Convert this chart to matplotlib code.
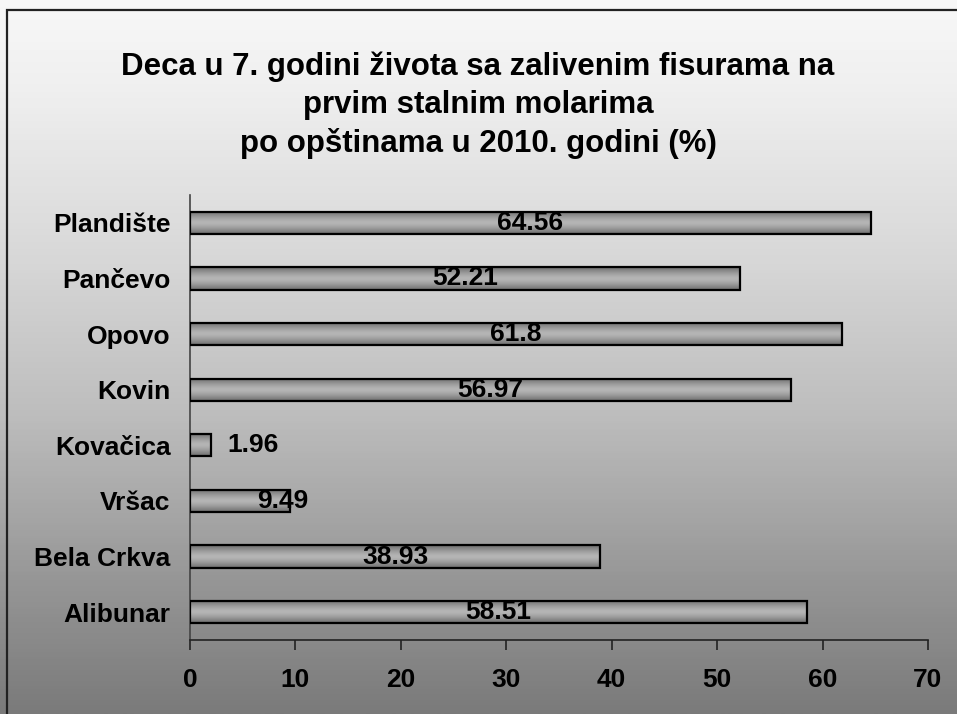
import numpy as np
import matplotlib.pyplot as plt
from matplotlib.patches import Rectangle

# data (bottom to top as drawn)
municipalities = ['Alibunar', 'Bela Crkva', 'Vršac', 'Kovačica', 'Kovin', 'Opovo', 'Pančevo', 'Plandište']
values = [58.51, 38.93, 9.49, 1.96, 56.97, 61.8, 52.21, 64.56]
xticks = [0, 10, 20, 30, 40, 50, 60, 70]
title = 'Deca u 7. godini života sa zalivenim fisurama na\nprvim stalnim molarima\npo opštinama u 2010. godini (%)'

plt.rcParams['font.family'] = ['Liberation Sans', 'DejaVu Sans']
plt.rcParams['font.weight'] = 'bold'

W, H = 957, 714
fig = plt.figure(figsize=(W / 100, H / 100), dpi=100)

# background gradient, white-ish at top to grey at bottom
bg = fig.add_axes([0, 0, 1, 1], zorder=-10)
grad = np.linspace(0, 1, 256).reshape(-1, 1)
bg.imshow(grad, aspect='auto', cmap='Greys', vmin=-0.12, vmax=1.75,
          extent=[0, 1, 0, 1], origin='upper')
bg.set_xlim(0, 1)
bg.set_ylim(0, 1)
bg.axis('off')
# outer frame (right/bottom run off the image)
bg.add_patch(Rectangle((7 / W, -0.05), 1.1, 1 - 10 / H + 0.05, fill=False,
                       edgecolor='#222222', lw=1.6, transform=bg.transAxes))

fig.text(478 / W, 1 - 51 / H, title, ha='center', va='top', fontsize=22.5,
         fontweight='bold', linespacing=1.36)

left, right = 190 / W, 928 / W
top, bottom = 1 - 195 / H, 1 - 640 / H
ax = fig.add_axes([left, bottom, right - left, top - bottom])
ax.set_facecolor('none')

y = np.arange(len(municipalities))
bars = ax.barh(y, values, height=0.4, color='none', edgecolor='black', lw=1.6, zorder=3)

# vertical shading inside each bar: darker edges, lighter middle
shade = np.abs(np.linspace(-1, 1, 64)).reshape(-1, 1)
for b in bars:
    x0, y0 = b.get_x(), b.get_y()
    im = ax.imshow(shade ** 1.5, aspect='auto', cmap='Greys', vmin=-1.6, vmax=2.4,
                   extent=[x0, x0 + b.get_width(), y0, y0 + b.get_height()],
                   zorder=2, interpolation='bilinear')
    im.set_clip_path(b)

fs = 19
for yi, v in zip(y, values):
    if v < 5:
        ax.text(v + 1.6, yi, f'{v:g}', ha='left', va='center', fontsize=fs, fontweight='bold', zorder=4)
    elif v < 12:
        ax.text(v - 0.7, yi, f'{v:g}', ha='center', va='center', fontsize=fs, fontweight='bold', zorder=4)
    else:
        ax.text(v / 2, yi, f'{v:g}', ha='center', va='center', fontsize=fs, fontweight='bold', zorder=4)

ax.set_xlim(0, 70)
ax.set_ylim(-0.5, len(municipalities) - 0.5)
ax.set_xticks(xticks)
ax.set_xticklabels([str(t) for t in xticks], fontsize=fs, fontweight='bold')
ax.set_yticks(y)
ax.set_yticklabels(municipalities, fontsize=fs, fontweight='bold')
ax.tick_params(axis='y', length=0, pad=14)
ax.tick_params(axis='x', length=7, width=1.2, direction='out', pad=13, color='#222222')
for s in ['top', 'right']:
    ax.spines[s].set_visible(False)
ax.spines['left'].set_color('#444444')
ax.spines['bottom'].set_color('#222222')
ax.spines['left'].set_linewidth(1.2)
ax.spines['bottom'].set_linewidth(1.2)

fig.savefig('out.png', dpi=100)
